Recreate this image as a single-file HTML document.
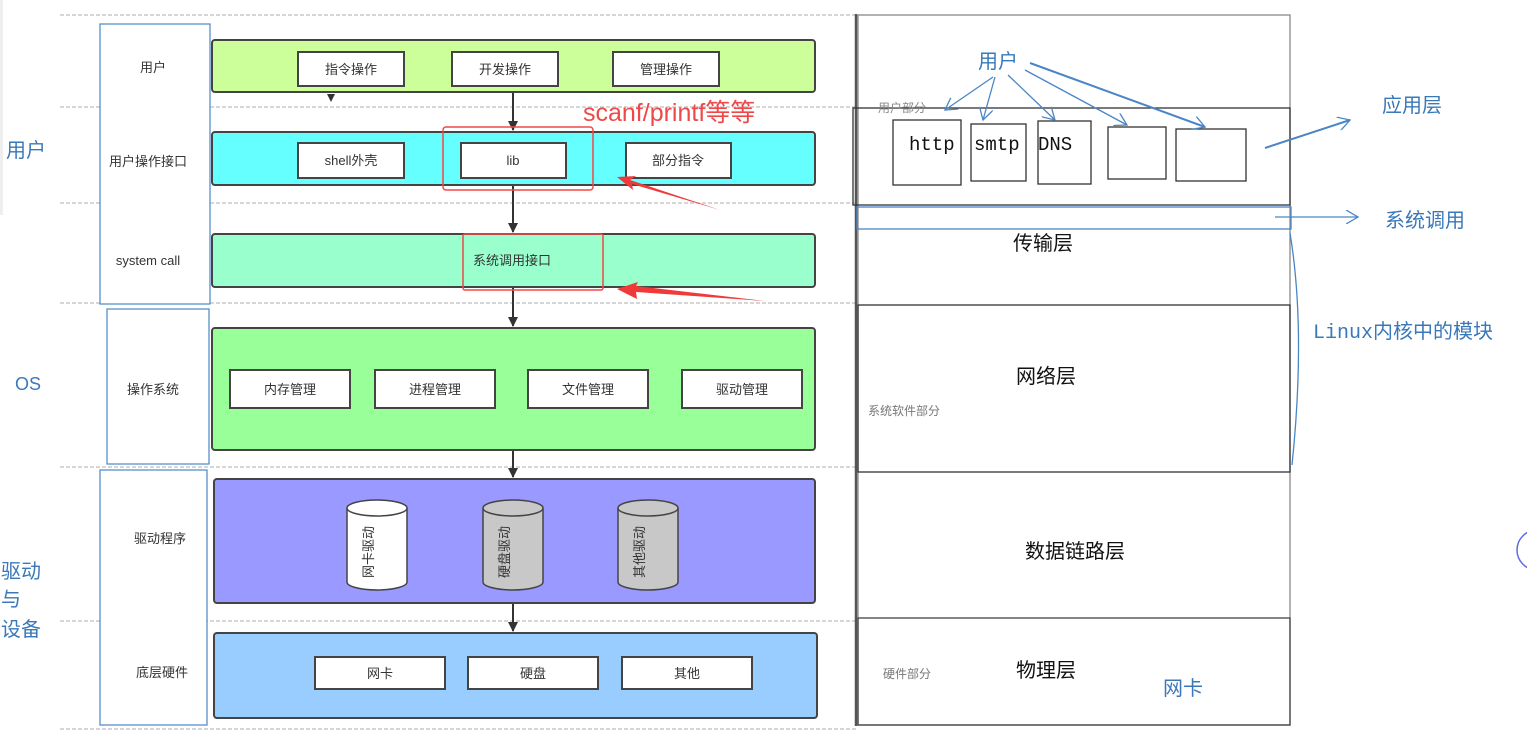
<!DOCTYPE html>
<html><head><meta charset="utf-8"><style>
html,body{margin:0;padding:0;background:#fff;width:1527px;height:744px;overflow:hidden}
svg{display:block}
text{font-family:"Liberation Sans","Noto Sans CJK SC",sans-serif}
.s{font-size:13px;fill:#333}
.b{fill:#3a78b9}
.mono{font-family:"Liberation Mono","Noto Sans CJK SC",monospace}
</style></head><body>
<svg width="1527" height="744" viewBox="0 0 1527 744" xmlns="http://www.w3.org/2000/svg">
<defs>
<marker id="ah" markerWidth="10" markerHeight="10" refX="9" refY="5" orient="auto" markerUnits="userSpaceOnUse"><path d="M0,0 L10,5 L0,10 Z" fill="#333"/></marker>
<marker id="bh" markerWidth="14" markerHeight="14" refX="12" refY="7" orient="auto" markerUnits="userSpaceOnUse"><path d="M0,0 L12,7 L0,14" fill="none" stroke="#4a86c5" stroke-width="1.3"/></marker>
</defs>
<rect x="0" y="0" width="3" height="215" fill="#eee"/>
<g stroke="#c8c8c8" stroke-width="1.5" stroke-dasharray="4,2">
<line x1="60" y1="15" x2="858" y2="15"/>
<line x1="60" y1="107" x2="858" y2="107"/>
<line x1="60" y1="203" x2="858" y2="203"/>
<line x1="60" y1="303" x2="858" y2="303"/>
<line x1="60" y1="467" x2="858" y2="467"/>
<line x1="60" y1="621" x2="858" y2="621"/>
<line x1="60" y1="729" x2="858" y2="729"/>
</g>
<g fill="#fff" stroke="#4a86c5" stroke-width="1.2">
<rect x="100" y="24" width="110" height="280"/>
<rect x="107" y="309" width="102" height="155"/>
<rect x="100" y="470" width="107" height="255"/>
</g>
<g class="s" text-anchor="middle">
<text x="153" y="72">用户</text>
<text x="148" y="166">用户操作接口</text>
<text x="148" y="265">system call</text>
<text x="153" y="394">操作系统</text>
<text x="160" y="543">驱动程序</text>
<text x="162" y="677">底层硬件</text>
</g>
<g class="b" font-size="20">
<text x="6" y="157">用户</text>
<text x="15" y="390" font-size="18">OS</text>
<text x="1" y="578">驱动</text>
<text x="1" y="606">与</text>
<text x="1" y="636">设备</text>
</g>
<g stroke="#333" stroke-width="2" marker-end="url(#ah)">
<line x1="513" y1="92" x2="513" y2="130"/>
<line x1="513" y1="185" x2="513" y2="232"/>
<line x1="513" y1="287" x2="513" y2="326"/>
<line x1="513" y1="450" x2="513" y2="477"/>
<line x1="513" y1="603" x2="513" y2="631"/>
</g>
<path d="M327,94 L335,94 L331,102 Z" fill="#333"/>
<g stroke="#444" stroke-width="2">
<rect x="212" y="40" width="603" height="52" rx="3" fill="#ccff99"/>
<rect x="212" y="132" width="603" height="53" rx="3" fill="#66ffff"/>
<rect x="212" y="234" width="603" height="53" rx="3" fill="#99ffcc"/>
<rect x="212" y="328" width="603" height="122" rx="3" fill="#99ff99"/>
<rect x="214" y="479" width="601" height="124" rx="3" fill="#9999ff"/>
<rect x="214" y="633" width="603" height="85" rx="3" fill="#99ccff"/>
</g>
<g fill="#fff" stroke="#444" stroke-width="2">
<rect x="298" y="52" width="106" height="34"/>
<rect x="452" y="52" width="106" height="34"/>
<rect x="613" y="52" width="106" height="34"/>
<rect x="298" y="143" width="106" height="35"/>
<rect x="461" y="143" width="105" height="35"/>
<rect x="626" y="143" width="105" height="35"/>
<rect x="230" y="370" width="120" height="38"/>
<rect x="375" y="370" width="120" height="38"/>
<rect x="528" y="370" width="120" height="38"/>
<rect x="682" y="370" width="120" height="38"/>
<rect x="315" y="657" width="130" height="32"/>
<rect x="468" y="657" width="130" height="32"/>
<rect x="622" y="657" width="130" height="32"/>
</g>
<g class="s" text-anchor="middle">
<text x="351" y="74">指令操作</text>
<text x="505" y="74">开发操作</text>
<text x="666" y="74">管理操作</text>
<text x="351" y="165">shell外壳</text>
<text x="513" y="165">lib</text>
<text x="678" y="165">部分指令</text>
<text x="512" y="265">系统调用接口</text>
<text x="290" y="394">内存管理</text>
<text x="435" y="394">进程管理</text>
<text x="588" y="394">文件管理</text>
<text x="742" y="394">驱动管理</text>
<text x="380" y="678">网卡</text>
<text x="533" y="678">硬盘</text>
<text x="687" y="678">其他</text>
</g>
<g stroke="#444" stroke-width="1.5">
<path d="M347,508 L347,582 A30,8 0 0 0 407,582 L407,508" fill="#fff"/>
<ellipse cx="377" cy="508" rx="30" ry="8" fill="#fff"/>
<path d="M483,508 L483,582 A30,8 0 0 0 543,582 L543,508" fill="#c8c8c8"/>
<ellipse cx="513" cy="508" rx="30" ry="8" fill="#c8c8c8"/>
<path d="M618,508 L618,582 A30,8 0 0 0 678,582 L678,508" fill="#c8c8c8"/>
<ellipse cx="648" cy="508" rx="30" ry="8" fill="#c8c8c8"/>
</g>
<g class="s" font-size="12" text-anchor="middle">
<text transform="translate(373,552) rotate(-90)">网卡驱动</text>
<text transform="translate(509,552) rotate(-90)">硬盘驱动</text>
<text transform="translate(644,552) rotate(-90)">其他驱动</text>
</g>
<rect x="443" y="127" width="150" height="63" rx="3" fill="none" stroke="#f04848" stroke-width="1.5"/>
<rect x="463" y="234" width="140" height="56" rx="2" fill="none" stroke="#f04848" stroke-width="1.5"/>
<text x="583" y="121" font-size="25" fill="#f04848">scanf/printf等等</text>
<path d="M720,210 L630,180 L636,176 L617,177 L633,190 L632,184 Z" fill="#f03a3a"/>
<path d="M765,301 L636,286 L638,282 L617,289 L637,299 L636,292 Z" fill="#f03a3a"/>
<g fill="none" stroke="#555" stroke-width="1.3">
<rect x="858" y="15" width="432" height="710" stroke="#888"/>
<line x1="856" y1="14" x2="856" y2="726" stroke="#555" stroke-width="2.5"/>
<rect x="853" y="108" width="437" height="97" stroke="#333"/>
<rect x="858" y="305" width="432" height="167" stroke="#333"/>
<rect x="858" y="618" width="432" height="107" stroke="#444"/>
</g>
<rect x="857" y="207" width="434" height="22" fill="none" stroke="#4a86c5" stroke-width="1.3"/>
<g fill="#fff" stroke="#333" stroke-width="1.3">
<rect x="893" y="120" width="68" height="65"/>
<rect x="971" y="124" width="55" height="57"/>
<rect x="1038" y="121" width="53" height="63"/>
<rect x="1108" y="127" width="58" height="52"/>
<rect x="1176" y="129" width="70" height="52"/>
</g>
<g font-size="19" fill="#111">
<text class="mono" x="909" y="150">http</text>
<text class="mono" x="974" y="150">smtp</text>
<text class="mono" x="1038" y="150">DNS</text>
</g>
<text x="878" y="112" font-size="12" fill="#888">用户部分</text>
<text x="978" y="68" font-size="20" class="b">用户</text>
<g stroke="#4a86c5" stroke-width="1.3" fill="none" marker-end="url(#bh)">
<line x1="993" y1="77" x2="945" y2="110"/>
<line x1="995" y1="77" x2="983" y2="120"/>
<line x1="1008" y1="75" x2="1055" y2="120"/>
<line x1="1025" y1="70" x2="1127" y2="125"/>
<line x1="1030" y1="63" x2="1205" y2="127" stroke-width="2"/>
<line x1="1265" y1="148" x2="1350" y2="120" stroke-width="2"/>
<line x1="1275" y1="217" x2="1358" y2="217"/>
</g>
<path d="M1290,233 Q1306,330 1292,465" fill="none" stroke="#4a86c5" stroke-width="1.3"/>
<g class="b" font-size="20">
<text x="1382" y="112">应用层</text>
<text x="1385" y="227">系统调用</text>
<text class="mono" x="1313" y="338">Linux内核中的模块</text>
<text x="1163" y="695">网卡</text>
</g>
<g font-size="20" fill="#111">
<text x="1013" y="250">传输层</text>
<text x="1016" y="383">网络层</text>
<text x="1025" y="558">数据链路层</text>
<text x="1016" y="677">物理层</text>
</g>
<text x="868" y="415" font-size="12" fill="#777">系统软件部分</text>
<text x="883" y="678" font-size="12" fill="#777">硬件部分</text>
<circle cx="1537" cy="550" r="20" fill="#fff" stroke="#5b6ee0" stroke-width="1.5"/>
</svg>
</body></html>
